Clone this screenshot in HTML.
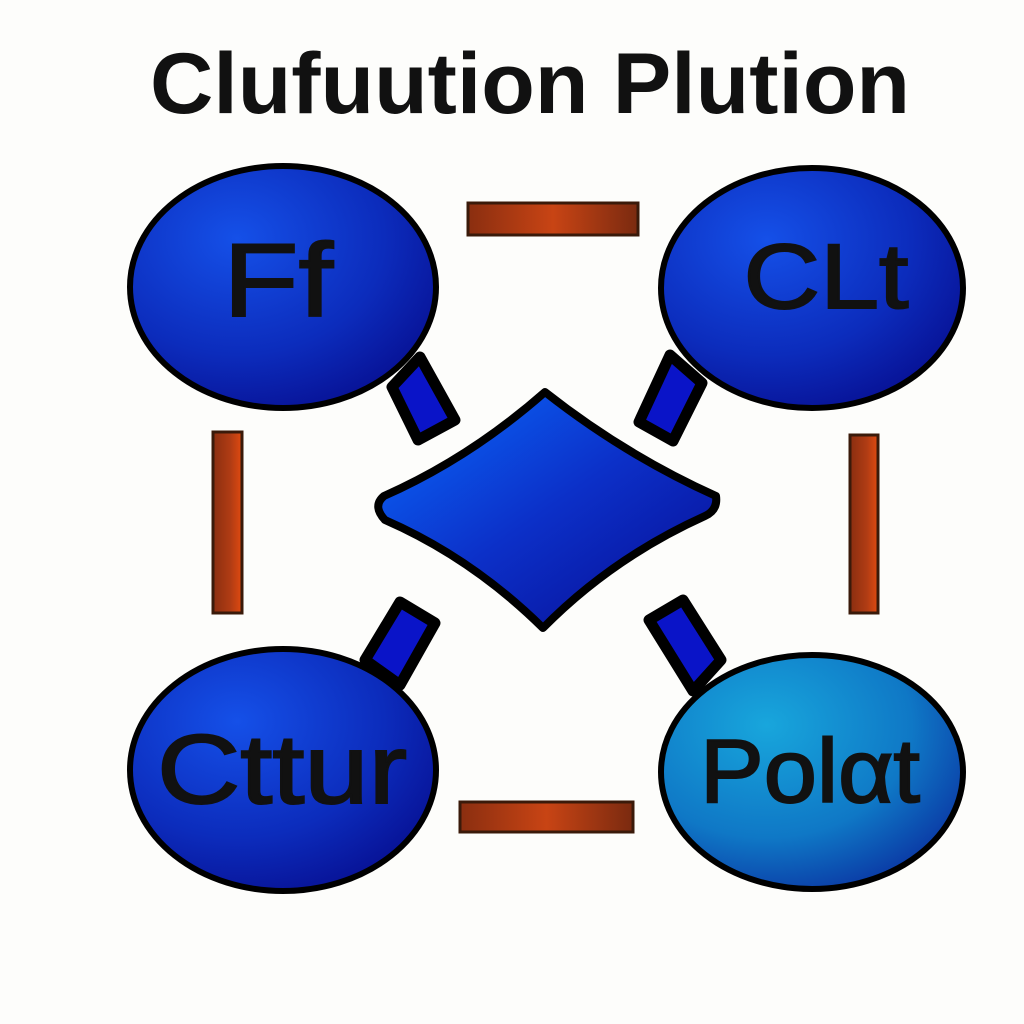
<!DOCTYPE html>
<html><head><style>
html,body{margin:0;padding:0;background:#fdfdfb;}
svg{display:block}
</style></head><body>
<svg width="1024" height="1024" viewBox="0 0 1024 1024" xmlns="http://www.w3.org/2000/svg">
<defs>
<radialGradient id="g1" cx="0.35" cy="0.3" r="0.8">
<stop offset="0" stop-color="#1550e8"/><stop offset="0.6" stop-color="#0c2cbc"/><stop offset="1" stop-color="#070e90"/>
</radialGradient>
<radialGradient id="g2" cx="0.35" cy="0.3" r="0.8">
<stop offset="0" stop-color="#18a6dc"/><stop offset="0.6" stop-color="#0f78c6"/><stop offset="1" stop-color="#0a30a0"/>
</radialGradient>
<linearGradient id="gd" x1="0" y1="0" x2="1" y2="1">
<stop offset="0" stop-color="#0a6cff"/><stop offset="0.5" stop-color="#0c30c8"/><stop offset="1" stop-color="#070a90"/>
</linearGradient>
<linearGradient id="br" x1="0" y1="0" x2="1" y2="0">
<stop offset="0" stop-color="#8a2e10"/><stop offset="0.5" stop-color="#c84414"/><stop offset="1" stop-color="#7a2a10"/>
</linearGradient>
<linearGradient id="bv" x1="0" y1="0" x2="1" y2="0">
<stop offset="0" stop-color="#8a2e10"/><stop offset="0.6" stop-color="#b03c14"/><stop offset="1" stop-color="#e04a10"/>
</linearGradient>
</defs>
<text x="530" y="113" text-anchor="middle" font-family="Liberation Sans, sans-serif" font-weight="bold" font-size="86" fill="#111" textLength="760" lengthAdjust="spacingAndGlyphs">Clufuution Plution</text>

<rect x="468" y="203" width="170" height="32" fill="url(#br)" stroke="#3a1a0a" stroke-width="3"/>
<rect x="460" y="802" width="173" height="30" fill="url(#br)" stroke="#3a1a0a" stroke-width="3"/>
<rect x="213" y="432" width="29" height="181" fill="url(#bv)" stroke="#3a1a0a" stroke-width="3"/>
<rect x="850" y="435" width="28" height="178" fill="url(#bv)" stroke="#3a1a0a" stroke-width="3"/>

<g stroke="#000" stroke-width="11" stroke-linejoin="round" fill="#0a14c8">
<polygon points="420,357 455,420 418,440 392,387"/>
<polygon points="670,355 702,383 673,441 639,422"/>
<polygon points="400,602 435,623 400,685 365,660"/>
<polygon points="683,600 721,660 693,691 649,620"/>
</g>

<ellipse cx="283" cy="287" rx="153" ry="121" fill="url(#g1)" stroke="#000" stroke-width="6"/>
<ellipse cx="812" cy="288" rx="151" ry="120" fill="url(#g1)" stroke="#000" stroke-width="6"/>
<ellipse cx="283" cy="770" rx="153" ry="121" fill="url(#g1)" stroke="#000" stroke-width="6"/>
<ellipse cx="812" cy="772" rx="151" ry="117" fill="url(#g2)" stroke="#000" stroke-width="6"/>

<path d="M545,392 Q625,455 716,496 Q718,510 705,516 Q612,558 543,628 Q472,558 385,520 Q372,506 384,496 Q470,458 545,392 Z" fill="url(#gd)" stroke="#000" stroke-width="8" stroke-linejoin="round"/>

<g font-family="Liberation Sans, sans-serif" fill="#111" stroke="#111" stroke-width="2">
<text x="278" y="316" text-anchor="middle" font-size="104" textLength="110" lengthAdjust="spacingAndGlyphs">Ff</text>
<text x="826" y="308" text-anchor="middle" font-size="92" textLength="165" lengthAdjust="spacingAndGlyphs">CLt</text>
<text x="282" y="803" text-anchor="middle" font-size="98" textLength="250" lengthAdjust="spacingAndGlyphs">Cttur</text>
<text x="810" y="802" text-anchor="middle" font-size="90" textLength="220" lengthAdjust="spacingAndGlyphs">Polαt</text>
</g>
</svg>
</body></html>
